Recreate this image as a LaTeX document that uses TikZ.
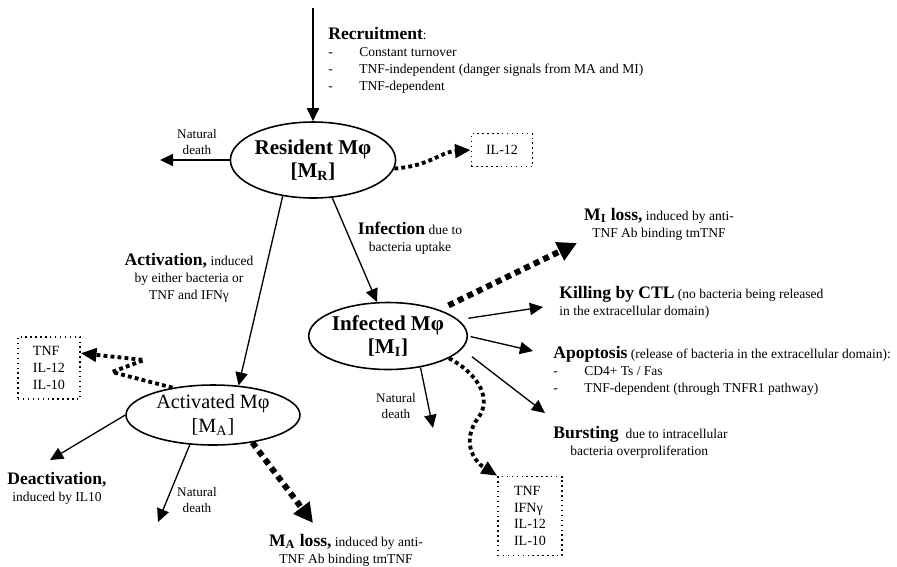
\documentclass[tikz,border=0pt]{standalone}
\usepackage{fontspec}
\setmainfont{Liberation Serif}
\usepackage{tikz}
\usetikzlibrary{arrows.meta, positioning, shapes.geometric}

\newcommand{\dashitem}{\makebox[17.6pt][l]{-}}
\newcommand{\hd}[1]{{\bfseries\fontsize{10}{11}\selectfont #1}}

\begin{document}
\begin{tikzpicture}[x=0.02cm, y=-0.02cm,
  >={Triangle[length=7.5pt,width=7pt]},
  cell/.style={ellipse, draw, line width=0.9pt, inner sep=0pt, align=center},
  flow/.style={->, line width=0.75pt},
  loss/.style={-{Triangle[length=11pt,width=11pt]}, line width=3.4pt, dash pattern=on 3.4pt off 2.6pt},
  secr/.style={-{Triangle[length=9pt,width=7.5pt]}, line width=2.2pt, dash pattern=on 2.2pt off 1.8pt},
  cyto/.style={draw, dotted, line width=0.8pt, inner sep=0pt, align=left, font=\fontsize{8}{9.5}\selectfont},
  lbl/.style={inner sep=0pt, align=center, font=\fontsize{7.7}{9.7}\selectfont},
  small/.style={inner sep=0pt, align=center, font=\fontsize{7.5}{9.2}\selectfont}]

\useasboundingbox (0,0) rectangle (897,566);

% --- Macrophage states ---
\node[cell, minimum width=3.2cm, minimum height=1.52cm, font=\bfseries\fontsize{12}{13}\selectfont] (res) at (313,160) {Resident Mφ\\{}[M\textsubscript{R}]};
\node[cell, minimum width=3.14cm, minimum height=1.34cm, font=\bfseries\fontsize{12}{13}\selectfont] (inf) at (388,336) {Infected Mφ\\{}[M\textsubscript{I}]};
\node[cell, minimum width=3.48cm, minimum height=1.2cm, font=\fontsize{11.5}{14}\selectfont] (act) at (213,415) {Activated Mφ\\{}[M\textsubscript{A}]};

% --- Secreted cytokines ---
\node[cyto, minimum width=1.22cm, minimum height=0.66cm] (il12) at (502,150) {IL-12};
\node[cyto, minimum width=1.24cm, minimum height=1.24cm] (abox) at (49,368) {TNF\\IL-12\\IL-10};
\node[cyto, minimum width=1.28cm, minimum height=1.58cm] (ibox) at (530,516) {TNF\\IFNγ\\IL-12\\IL-10};

% --- Labels ---
\node[lbl, anchor=north west, align=left] (recr) at (328,27) {\hd{Recruitment}:\\\dashitem Constant turnover\\\dashitem TNF-independent (danger signals from MA and MI)\\\dashitem TNF-dependent};
\node[small] (rdeathl) at (197,142) {Natural\\death};
\node[lbl] (infl) at (410,238) {\hd{Infection} due to\\bacteria uptake};
\node[lbl] (actl) at (189,278) {\hd{Activation,} induced\\by either bacteria or\\TNF and IFNγ};
\node[lbl] (mil) at (659,224) {\hd{M\textsubscript{I} loss,} induced by anti-\\TNF Ab binding tmTNF};
\node[lbl, anchor=north west, align=left] (killl) at (559,286) {\hd{Killing by CTL} (no bacteria being released\\in the extracellular domain)};
\node[lbl, anchor=north west, align=left] (apopl) at (553,346) {\hd{Apoptosis} (release of bacteria in the extracellular domain):\\\dashitem CD4+ Ts / Fas\\\dashitem TNF-dependent (through TNFR1 pathway)};
\node[lbl, anchor=north west, align=left] (burstl) at (553,426) {\hd{Bursting}\ \ due to intracellular\\\hspace*{9.7pt}bacteria overproliferation};
\node[small] (ideathl) at (396,406) {Natural\\death};
\node[lbl] (deactl) at (57,488) {\hd{Deactivation,}\\induced by IL10};
\node[small] (adeathl) at (197,500) {Natural\\death};
\node[lbl] (mal) at (346,550) {\hd{M\textsubscript{A} loss,} induced by anti-\\TNF Ab binding tmTNF};

% --- Free arrow ends ---
\coordinate (rtop) at (313,8);
\coordinate (rdeath) at (160,160);
\coordinate (miloss) at (577,243);
\coordinate (kill) at (543,307);
\coordinate (apop) at (533,351);
\coordinate (burst) at (545,413);
\coordinate (ideath) at (433,428);
\coordinate (deact) at (50,460);
\coordinate (adeath) at (158,522);
\coordinate (maloss) at (313,523);

% --- Resident ---
\draw[flow] (rtop) -- (res.north);
\draw[flow] (res.west) -- (rdeath);
\draw[secr] (res.-6) .. controls (430,166) and (440,152) .. (il12.west);
\draw[flow] (res.230) -- (act.49);
\draw[flow] (res.297) -- (inf.108);

% --- Infected ---
\draw[loss, shorten <=0.2cm] (inf.27) -- (miloss);
\draw[flow, shorten <=0.2cm] (inf.13) -- (kill);
\draw[flow, shorten <=0.05cm] (inf.east) -- (apop);
\draw[flow, shorten <=0.25cm] (inf.-10) -- (burst);
\draw[flow] (inf.316) -- (ideath);
\draw[secr] (inf.-20) .. controls (480,375) and (492,400) .. (478,418) .. controls (462,440) and (472,460) .. (ibox.north west);

% --- Activated ---
\draw[secr] (act.146) -- (112,372) -- (144,360) -- (abox.25);
\draw[flow] (act.west) -- (deact);
\draw[flow] (act.232) -- (adeath);
\draw[loss] (act.-35) -- (maloss);

\end{tikzpicture}
\end{document}
